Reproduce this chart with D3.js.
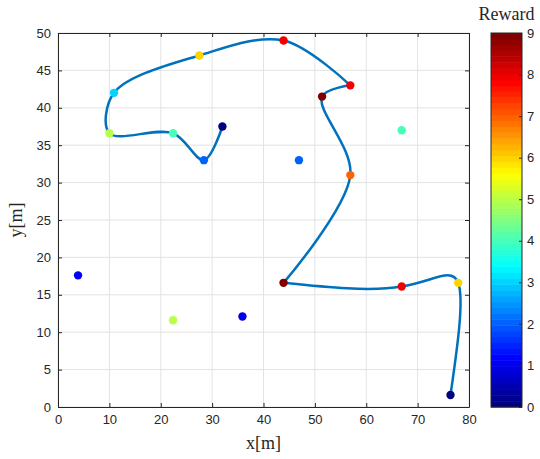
<!DOCTYPE html>
<html>
<head>
<meta charset="utf-8">
<script src="https://cdn.jsdelivr.net/npm/d3@7"></script>
<style>
  body { margin: 0; background: #fff; }
  svg text { fill: #262626; }
</style>
</head>
<body>
<div id="chart"></div>
<script>
// path visited by the agent, in order
const pathX = [32, 28.4, 22.4, 10, 10.9, 27.5, 43.9, 56.9, 51.4, 56.9, 43.9, 66.9, 77.9, 76.4];
const pathY = [37.5, 33, 36.6, 36.6, 42, 47, 49, 43, 41.5, 31, 16.6, 16.1, 16.6, 1.6];
const pathReward = [0, 2, 4, 5, 3, 6, 8, 8, 9, 7, 9, 8, 6, 0];
// indices where the path turns sharply (pieces are smoothed separately)
const pathBreaks = [7, 10];

// points not on the path
const otherX = [46.9, 66.9, 3.9, 22.4, 35.9];
const otherY = [33, 37, 17.6, 11.6, 12.1];
const otherReward = [2, 4, 1, 5, 1];

const xTicks = [0, 10, 20, 30, 40, 50, 60, 70, 80];
const yTicks = [0, 5, 10, 15, 20, 25, 30, 35, 40, 45, 50];
const cTicks = [0, 1, 2, 3, 4, 5, 6, 7, 8, 9];

const width = 540, height = 459;
const margin = { left: 58, top: 33, right: 71, bottom: 52 };

const svg = d3.select('#chart').append('svg')
    .attr('width', width)
    .attr('height', height)
    .style('font-family', 'Liberation Sans, Arial, sans-serif');

const x = d3.scaleLinear().domain([0, 80]).range([margin.left, width - margin.right]);
const y = d3.scaleLinear().domain([0, 50]).range([height - margin.bottom, margin.top]);

// matlab jet colormap, 64 levels
function jet(t) {
    t = Math.max(0, Math.min(1, t));
    t = Math.min(63, Math.floor(t * 64)) / 63;
    const f = v => Math.max(0, Math.min(1, v));
    const r = f(Math.min(4 * t - 1.5, -4 * t + 4.5));
    const g = f(Math.min(4 * t - 0.5, -4 * t + 3.5));
    const b = f(Math.min(4 * t + 0.5, -4 * t + 2.5));
    return d3.rgb(r * 255, g * 255, b * 255).toString();
}
const color = v => jet(v / 9);

// grid
svg.append('g').selectAll('line').data(xTicks).enter().append('line')
    .attr('x1', d => x(d)).attr('x2', d => x(d))
    .attr('y1', y(0)).attr('y2', y(50))
    .style('stroke', '#e3e3e3').style('stroke-width', 1);
svg.append('g').selectAll('line').data(yTicks).enter().append('line')
    .attr('x1', x(0)).attr('x2', x(80))
    .attr('y1', d => y(d)).attr('y2', d => y(d))
    .style('stroke', '#e3e3e3').style('stroke-width', 1);

// axes (ticks inward)
const axisStyle = g => {
    g.select('.domain').style('stroke', '#262626');
    g.selectAll('.tick line').style('stroke', '#262626');
    g.selectAll('.tick text').style('font-size', '13px').style('fill', '#262626');
};
svg.append('g').attr('transform', `translate(0,${y(0)})`)
    .call(d3.axisBottom(x).tickValues(xTicks).tickSizeInner(-4).tickSizeOuter(0).tickPadding(8))
    .call(axisStyle);
svg.append('g').attr('transform', `translate(${x(0)},0)`)
    .call(d3.axisLeft(y).tickValues(yTicks).tickSizeInner(-4).tickSizeOuter(0).tickPadding(7))
    .call(axisStyle);
svg.append('g').attr('transform', `translate(0,${y(50)})`)
    .call(d3.axisTop(x).tickValues(xTicks).tickSizeInner(-4).tickSizeOuter(0).tickFormat(''))
    .call(axisStyle);
svg.append('g').attr('transform', `translate(${x(80)},0)`)
    .call(d3.axisRight(y).tickValues(yTicks).tickSizeInner(-4).tickSizeOuter(0).tickFormat(''))
    .call(axisStyle);

// path curve, drawn in smooth pieces
const pathData = pathX.map((d, i) => ({ x: d, y: pathY[i], r: pathReward[i] }));
const otherData = otherX.map((d, i) => ({ x: d, y: otherY[i], r: otherReward[i] }));

const cuts = [0].concat(pathBreaks, [pathData.length - 1]);
const pieces = d3.range(cuts.length - 1).map(i => pathData.slice(cuts[i], cuts[i + 1] + 1));
const curves = [d3.curveCatmullRom.alpha(0.5), d3.curveCatmullRom.alpha(0.5), d3.curveNatural];

svg.append('g').selectAll('path')
    .data(pieces)
    .enter().append('path')
    .attr('d', (d, i) => d3.line().x(p => x(p.x)).y(p => y(p.y)).curve(curves[i])(d))
    .style('fill', 'none')
    .style('stroke', '#0072BD')
    .style('stroke-width', 2.5)
    .style('stroke-linejoin', 'round');

svg.append('g').selectAll('circle')
    .data(pathData.concat(otherData))
    .enter().append('circle')
    .attr('cx', d => x(d.x))
    .attr('cy', d => y(d.y))
    .attr('r', 4.2)
    .style('fill', d => color(d.r));

// axis labels
svg.append('text')
    .attr('x', x(40)).attr('y', 449)
    .attr('text-anchor', 'middle')
    .style('font-family', 'Liberation Serif, Times New Roman, serif')
    .style('font-size', '18px')
    .text('x[m]');
svg.append('text')
    .attr('transform', `translate(22,${y(25)}) rotate(-90)`)
    .attr('text-anchor', 'middle')
    .style('font-family', 'Liberation Serif, Times New Roman, serif')
    .style('font-size', '18px')
    .text('y[m]');

// colorbar
const cb = { x: 491, w: 31 };
const c = d3.scaleLinear().domain([0, 9]).range([y(0), y(50)]);
const levels = d3.range(64);
svg.append('g').selectAll('rect').data(levels).enter().append('rect')
    .attr('x', cb.x)
    .attr('width', cb.w)
    .attr('y', d => c((d + 1) * 9 / 64))
    .attr('height', d => c(d * 9 / 64) - c((d + 1) * 9 / 64) + 0.5)
    .style('fill', d => jet(d / 63));
svg.append('rect')
    .attr('x', cb.x).attr('y', c(9))
    .attr('width', cb.w).attr('height', c(0) - c(9))
    .style('fill', 'none').style('stroke', '#262626').style('stroke-width', 1);
svg.append('g').attr('transform', `translate(${cb.x + cb.w},0)`)
    .call(d3.axisRight(c).tickValues(cTicks).tickSizeInner(-3).tickSizeOuter(0).tickPadding(5))
    .call(axisStyle)
    .call(g => g.select('.domain').remove());
svg.append('text')
    .attr('x', cb.x + cb.w / 2).attr('y', 20)
    .attr('text-anchor', 'middle')
    .style('font-family', 'Liberation Serif, Times New Roman, serif')
    .style('font-size', '18px')
    .text('Reward');
</script>
</body>
</html>
